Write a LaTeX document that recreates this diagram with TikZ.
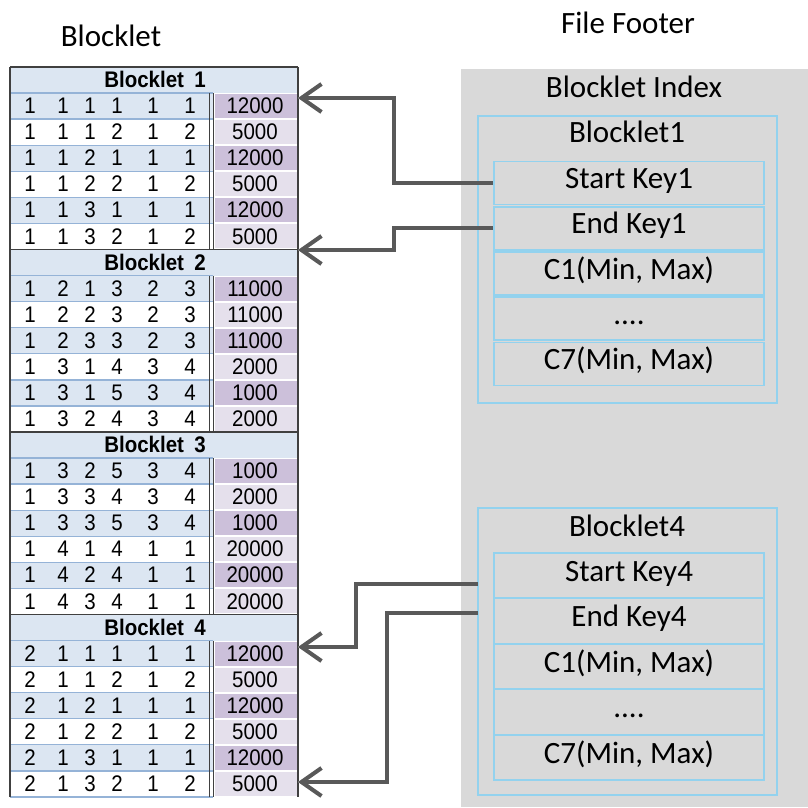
\documentclass[tikz,border=0pt]{standalone}
\usepackage{fontspec}
\setmainfont{Carlito}
\newfontfamily\tabfont{Liberation Sans}
\usetikzlibrary{arrows.meta}

\definecolor{hdrblue}{HTML}{DCE6F2}
\definecolor{sepblue}{HTML}{95B3D7}
\definecolor{valdark}{HTML}{CCC0DA}
\definecolor{vallight}{HTML}{E5E0EC}
\definecolor{panelgray}{HTML}{D9D9D9}
\definecolor{skyline}{HTML}{93D2EE}
\definecolor{arrowgray}{HTML}{595959}
\definecolor{rulegray}{HTML}{404040}

% height of one table row
\newcommand\rowh{26.07}
% table glyphs are set slightly tall
\newcommand\tall[1]{\scalebox{1}[1.1]{#1}}

% one data row: global row index, six key digits, row count
\newcommand\drow[3]{%
  \pgfmathsetmacro\ytop{67+#1*\rowh}%
  \pgfmathsetmacro\ybot{67+(#1+1)*\rowh}%
  \pgfmathsetmacro\ybase{67+(#1+0.5)*\rowh+7.6}%
  \pgfmathtruncatemacro\rr{mod(#1,7)}%
  \ifodd\rr
    \fill[hdrblue] (10,\ytop) rectangle (213,\ybot);
    \fill[valdark] (215,\ytop+1) rectangle (297,\ybot-1);
  \else
    \fill[vallight] (215,\ytop+1) rectangle (297,\ybot-1);
  \fi
  \foreach \d [count=\i] in {#2} {
    \pgfmathsetmacro\cx{{30,63,90,117,153,190}[\i-1]}
    \node[digit] (d#1-\i) at (\cx,\ybase) {\tall{\d}};
  }
  \node[digit] (v#1) at (255,\ybase) {\tall{#3}};
}

% header row of a blocklet: blocklet number
\newcommand\hrow[1]{%
  \pgfmathsetmacro\ytop{67+7*(#1-1)*\rowh}%
  \pgfmathsetmacro\ybot{67+(7*(#1-1)+1)*\rowh}%
  \pgfmathsetmacro\ybase{67+(7*(#1-1)+0.5)*\rowh+7.8}%
  \fill[hdrblue] (10,\ytop) rectangle (298,\ybot);
  \node[hdr] (h#1) at (155,\ybase) {\tall{Blocklet\hspace{0.5em}#1}};
}

\begin{document}
\begin{tikzpicture}[x=1pt,y=-1pt,
  digit/.style={font=\tabfont\fontsize{20.5}{24}\selectfont, inner sep=0, anchor=base},
  hdr/.style={font=\tabfont\bfseries\fontsize{20.5}{24}\selectfont, inner sep=0, anchor=base},
  bigtext/.style={font=\fontsize{31}{37}\selectfont, inner sep=0, anchor=base},
  outerbox/.style={draw=skyline, line width=1.8pt, minimum width=299pt, minimum height=287pt, inner sep=0},
  keybox/.style={draw=skyline, line width=1.8pt, minimum width=270pt, inner sep=0,
                 text height=19pt, text depth=8pt, font=\fontsize{31}{37}\selectfont},
  arr/.style={draw=arrowgray, line width=4pt, -{Straight Barb[length=20pt,width=28pt]}},
  arrshadow/.style={draw=black!13, line width=4pt, -{Straight Barb[length=20pt,width=28pt]}}
]
\useasboundingbox (0,0) rectangle (808,807);

% ---------- titles ----------
\node[bigtext] (ttlL) at (111,46) {Blocklet};
\node[bigtext] (ttlR) at (628,33) {File Footer};

% ---------- blocklet table ----------
\hrow{1}
\drow{1}{1,1,1,1,1,1}{12000}
\drow{2}{1,1,1,2,1,2}{5000}
\drow{3}{1,1,2,1,1,1}{12000}
\drow{4}{1,1,2,2,1,2}{5000}
\drow{5}{1,1,3,1,1,1}{12000}
\drow{6}{1,1,3,2,1,2}{5000}
\hrow{2}
\drow{8}{1,2,1,3,2,3}{11000}
\drow{9}{1,2,2,3,2,3}{11000}
\drow{10}{1,2,3,3,2,3}{11000}
\drow{11}{1,3,1,4,3,4}{2000}
\drow{12}{1,3,1,5,3,4}{1000}
\drow{13}{1,3,2,4,3,4}{2000}
\hrow{3}
\drow{15}{1,3,2,5,3,4}{1000}
\drow{16}{1,3,3,4,3,4}{2000}
\drow{17}{1,3,3,5,3,4}{1000}
\drow{18}{1,4,1,4,1,1}{20000}
\drow{19}{1,4,2,4,1,1}{20000}
\drow{20}{1,4,3,4,1,1}{20000}
\hrow{4}
\drow{22}{2,1,1,1,1,1}{12000}
\drow{23}{2,1,1,2,1,2}{5000}
\drow{24}{2,1,2,1,1,1}{12000}
\drow{25}{2,1,2,2,1,2}{5000}
\drow{26}{2,1,3,1,1,1}{12000}
\drow{27}{2,1,3,2,1,2}{5000}

% row separators in the key columns
\foreach \b in {0,...,3} {
  \foreach \r in {1,...,7} {
    \pgfmathsetmacro\yy{67+(7*\b+\r)*\rowh}
    \draw[sepblue, line width=1.3pt] (10,\yy) -- (213,\yy);
  }
  % double rule before the count column
  \pgfmathsetmacro\ya{67+(7*\b+1)*\rowh}
  \pgfmathsetmacro\yb{67+(7*\b+7)*\rowh}
  \draw[rulegray, line width=1pt] (209,\ya) -- (209,\yb) (213,\ya) -- (213,\yb);
  % rule above each blocklet
  \pgfmathsetmacro\yt{67+7*\b*\rowh}
  \draw[rulegray, line width=1.3pt] (10,\yt) -- (298,\yt);
}
% outer borders of the table
\draw[rulegray, line width=1.3pt] (10,67) -- (10,797) (298,67) -- (298,797);

% ---------- file footer ----------
\fill[panelgray] (461,69) rectangle (808,807);
\node[bigtext] (idx) at (634,97.5) {Blocklet Index};

% index entry for blocklet 1
\node[outerbox] (ob1) at (627.5,259.5) {};
\node[bigtext] (bl1) at (627,142.5) {Blocklet1};
\node[keybox, minimum height=43pt] (sk1) at (629,183) {Start Key1};
\node[keybox, minimum height=43pt] (ek1) at (629,228.25) {End Key1};
\node[keybox, minimum height=43pt] (mn1) at (629,273.5) {C1(Min, Max)};
\node[keybox, minimum height=43pt] (dt1) at (629,318.75) {....};
\node[keybox, minimum height=43pt] (mx1) at (629,364) {C7(Min, Max)};

% index entry for blocklet 4
\node[outerbox] (ob4) at (627.5,651.5) {};
\node[bigtext] (bl4) at (627,536) {Blocklet4};
\node[keybox, minimum height=45.5pt] (sk4) at (629,575.5) {Start Key4};
\node[keybox, minimum height=45.5pt] (ek4) at (629,621) {End Key4};
\node[keybox, minimum height=45.5pt] (mn4) at (629,666.5) {C1(Min, Max)};
\node[keybox, minimum height=45.5pt] (dt4) at (629,712) {....};
\node[keybox, minimum height=45.5pt] (mx4) at (629,757.5) {C7(Min, Max)};

% ---------- pointers from the index to the table ----------
\coordinate (t1) at (298,98);
\coordinate (t2) at (298,250);
\coordinate (t3) at (298,647);
\coordinate (t4) at (298,782);
\coordinate (s4) at (478,584);
\coordinate (e4) at (478,613);

\begin{scope}[shift={(2,2.5)}]
  \draw[arrshadow] (sk1.west) -- ++(-99,0) |- (t1);
  \draw[arrshadow] (ek1.west) -- ++(-99,0) |- (t2);
  \draw[arrshadow] (s4) -- ++(-122,0) |- (t3);
  \draw[arrshadow] (e4) -- ++(-91,0) |- (t4);
\end{scope}
\draw[arr] (sk1.west) -- ++(-99,0) |- (t1);
\draw[arr] (ek1.west) -- ++(-99,0) |- (t2);
\draw[arr] (s4) -- ++(-122,0) |- (t3);
\draw[arr] (e4) -- ++(-91,0) |- (t4);
\end{tikzpicture}
\end{document}
